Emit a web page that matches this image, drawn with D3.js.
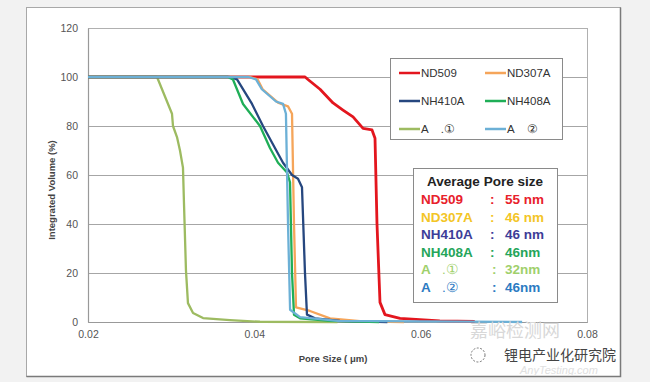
<!DOCTYPE html>
<html>
<head>
<meta charset="utf-8">
<script src="https://cdn.jsdelivr.net/npm/d3@7"></script>
<style>
  body { margin: 0; background: #f2f2f2; }
  svg { display: block; font-family: "Liberation Sans", Arial, sans-serif; }
</style>
</head>
<body>
<div class="graph"></div>
<script>
// pore size (um) / integrated volume (%)
const nd509X = [0.02, 0.0461, 0.04645, 0.0479, 0.04946, 0.05066, 0.05187, 0.05307, 0.05415, 0.05451, 0.05475, 0.05511, 0.05571, 0.05752, 0.0623, 0.0665];
const nd509Y = [100, 100, 99, 95, 89.4, 86.5, 83.7, 79, 78.4, 75, 40, 8, 3, 1.5, 0.5, 0.2];

const nd307aX = [0.02, 0.0395, 0.0404, 0.0410, 0.04285, 0.04405, 0.04453, 0.04477, 0.04501, 0.04669, 0.0491, 0.0527, 0.058];
const nd307aY = [100, 100, 99, 95, 89.5, 88, 85, 40, 6, 4.5, 1.5, 0.3, 0];

const nh410aX = [0.02, 0.0370, 0.03792, 0.03972, 0.04104, 0.04248, 0.04345, 0.04453, 0.04525, 0.04573, 0.04609, 0.04633, 0.0473, 0.0503, 0.056];
const nh410aY = [100, 100, 99, 89, 80, 71, 65, 60, 58.5, 55, 20, 3, 1.5, 0.5, 0];

const nh408aX = [0.02, 0.0368, 0.03743, 0.03864, 0.04068, 0.04188, 0.04285, 0.04393, 0.04429, 0.04453, 0.04477, 0.0455, 0.0491, 0.055];
const nh408aY = [100, 100, 99, 89, 80, 71, 65, 61, 57, 20, 3, 1.5, 0.5, 0];

const a1X = [0.02, 0.0283, 0.0301, 0.03022, 0.0307, 0.03106, 0.03142, 0.03154, 0.03178, 0.03202, 0.03263, 0.03383, 0.03707, 0.04068, 0.05];
const a1Y = [100, 100, 85, 80, 75.5, 70, 63, 48.6, 21, 7.7, 3.7, 1.6, 0.8, 0.1, 0];

const a2X = [0.02, 0.0393, 0.0402, 0.0409, 0.0426, 0.04345, 0.0438, 0.04405, 0.0443, 0.0455, 0.05, 0.0722];
const a2Y = [100, 100, 99, 95, 90, 89, 85, 40, 5, 2, 0.5, 0];

const seriesNames = ["ND509", "ND307A", "NH410A", "NH408A", "A    .\u2460", "A    \u2461"];
const seriesColors = ["#e3161e", "#f5a55a", "#26477f", "#1fae57", "#9dbb61", "#6cb0d6"];
const seriesX = [nd509X, nd307aX, nh410aX, nh408aX, a1X, a2X];
const seriesY = [nd509Y, nd307aY, nh410aY, nh408aY, a1Y, a2Y];

const xTicks = [0.02, 0.04, 0.06, 0.08];
const yTicks = [0, 20, 40, 60, 80, 100, 120];

const avgNames = ["ND509", "ND307A", "NH410A", "NH408A", "A", "A"];
const avgMarks = ["", "", "", "", ".\u2460", ".\u2461"];
const avgValues = ["55 nm", "46 nm", "46 nm", "46nm", "32nm", "46nm"];
const avgColors = ["#e8212b", "#f3c526", "#3d3d98", "#25a55a", "#9fd06c", "#2c7bc2"];

const width = 650, height = 382;
const plotLeft = 88, plotRight = 587, plotTop = 28, plotBottom = 322;

const svg = d3.select(".graph")
        .append("svg")
        .attr("width", width)
        .attr("height", height);

// outer frame
svg.append("rect").attr("x", 0).attr("y", 0).attr("width", width).attr("height", height).attr("fill", "#f2f2f2");
svg.append("rect")
        .attr("x", 26.5).attr("y", 7.5).attr("width", 594).attr("height", 369)
        .attr("fill", "#fff").attr("stroke", "#a8a8a8");
svg.append("path").attr("d", "M620.5,7.5V376.5H26.5").attr("fill", "none").attr("stroke", "#7a7a7a").attr("stroke-width", 1.5);

const x = d3.scaleLinear().domain([0.02, 0.08]).range([plotLeft, plotRight]);
const y = d3.scaleLinear().domain([0, 120]).range([plotBottom, plotTop]);

// gridlines
svg.append("g")
        .selectAll("line")
        .data(yTicks.filter(d => d > 0 && d < 120)).enter()
        .append("line")
        .attr("x1", plotLeft).attr("x2", plotRight)
        .attr("y1", d => Math.round(y(d)) + 0.5).attr("y2", d => Math.round(y(d)) + 0.5)
        .attr("stroke", "#a6a6a6").attr("stroke-width", 1.2);

svg.append("rect")
        .attr("x", plotLeft + 0.5).attr("y", plotTop + 0.5)
        .attr("width", plotRight - plotLeft).attr("height", plotBottom - plotTop)
        .attr("fill", "none").attr("stroke", "#b0b0b0");

// axes
const yAxis = svg.append("g")
        .attr("transform", `translate(${plotLeft},0)`)
        .call(d3.axisLeft(y).tickValues(yTicks).tickSize(0).tickPadding(10).tickFormat(d3.format("d")));
const xAxis = svg.append("g")
        .attr("transform", `translate(0,${plotBottom})`)
        .call(d3.axisBottom(x).tickValues(xTicks).tickSize(0).tickPadding(9).tickFormat(d3.format(".2f")));
[xAxis, yAxis].forEach(a => {
    a.select(".domain").attr("stroke", "#999").attr("stroke-width", 1.2);
    a.selectAll("text").attr("fill", "#555").attr("font-size", 10.5);
});

svg.append("text")
        .attr("transform", "translate(55,190) rotate(-90)")
        .attr("text-anchor", "middle")
        .attr("font-size", 9.5).attr("font-weight", "bold").attr("fill", "#444")
        .text("Integrated Volume (%)");
svg.append("text")
        .attr("x", 333).attr("y", 362)
        .attr("text-anchor", "middle")
        .attr("font-size", 9.5).attr("font-weight", "bold").attr("fill", "#444")
        .text("Pore Size ( \u03bcm)");

// curves
const line = d3.line().x(d => x(d[0])).y(d => y(d[1]));
const drawOrder = [4, 0, 1, 2, 3, 5];
drawOrder.forEach(i => {
    const pts = seriesX[i].map((v, k) => [v, seriesY[i][k]]);
    svg.append("path")
            .datum(pts)
            .attr("d", line)
            .attr("fill", "none")
            .attr("stroke", seriesColors[i])
            .attr("stroke-width", i === 0 ? 2.8 : 2.3)
            .attr("stroke-linejoin", "round");
});

// legend
const legend = svg.append("g");
legend.append("rect")
        .attr("x", 390.5).attr("y", 58.5).attr("width", 172).attr("height", 81)
        .attr("fill", "#fff").attr("stroke", "#8a8a8a");
legend.selectAll("g")
        .data(seriesNames).enter()
        .append("g")
        .attr("transform", (_, i) => `translate(${i % 2 ? 485 : 399},${73 + Math.floor(i / 2) * 28})`)
        .each(function (d, i) {
            const g = d3.select(this);
            g.append("line").attr("x1", 0).attr("x2", 21).attr("stroke", seriesColors[i]).attr("stroke-width", 2.5);
            g.append("text").attr("x", 22).attr("dy", "0.35em")
                    .attr("font-size", 11.5).attr("fill", "#333").style("white-space", "pre").text(d);
        });

// average pore size box
const avg = svg.append("g");
avg.append("rect")
        .attr("x", 413.5).attr("y", 168.5).attr("width", 144).attr("height", 134)
        .attr("fill", "#fff").attr("stroke", "#8a8a8a");
avg.append("text")
        .attr("x", 485).attr("y", 186)
        .attr("text-anchor", "middle").attr("font-size", 13.5).attr("font-weight", "bold").attr("fill", "#222")
        .text("Average Pore size");
avgNames.forEach((name, i) => {
    const row = avg.append("text")
            .attr("y", 204 + i * 17.6)
            .attr("font-size", 13.5).attr("font-weight", "bold").attr("fill", avgColors[i]);
    row.append("tspan").attr("x", 421).text(name);
    if (avgMarks[i]) row.append("tspan").attr("x", 442).attr("font-weight", "normal").text(avgMarks[i]);
    row.append("tspan").attr("x", i < 4 ? 490 : 492).text(":");
    row.append("tspan").attr("x", 505).text(avgValues[i]);
});

// watermark
svg.append("text")
        .attr("x", 470).attr("y", 337)
        .attr("font-size", 18).attr("fill", "#d8d8d8")
        .attr("font-family", "Noto Sans CJK SC")
        .text("\u5609\u5cea\u68c0\u6d4b\u7f51");
svg.append("text")
        .attr("x", 520).attr("y", 374)
        .attr("font-size", 11).attr("font-style", "italic").attr("fill", "#e0e0e0")
        .text("AnyTesting.com");
svg.append("circle").attr("cx", 478).attr("cy", 355).attr("r", 7).attr("fill", "none").attr("stroke", "#777").attr("stroke-dasharray", "2,1.5");
svg.append("text")
        .attr("x", 504).attr("y", 360)
        .attr("font-size", 14).attr("fill", "#444")
        .attr("font-family", "Noto Sans CJK SC")
        .text("\u9502\u7535\u4ea7\u4e1a\u5316\u7814\u7a76\u9662");
</script>
</body>
</html>
